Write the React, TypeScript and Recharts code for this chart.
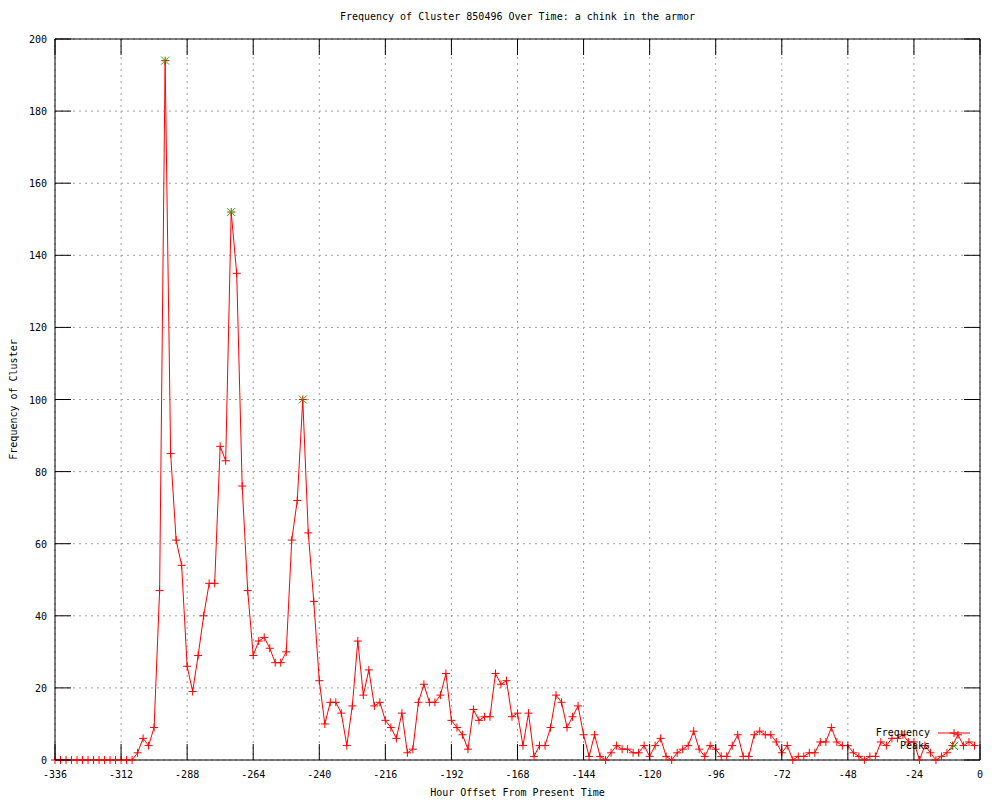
import React from "react";
import { ComposedChart, Line, XAxis, YAxis, CartesianGrid, Legend, ReferenceArea } from "recharts";

const hours = [
  -336, -334, -332, -330, -328, -326, -324, -322, -320, -318, -316, -314, -312, -310,
  -308, -306, -304, -302, -300, -298, -296, -294, -292, -290, -288, -286, -284, -282,
  -280, -278, -276, -274, -272, -270, -268, -266, -264, -262, -260, -258, -256, -254,
  -252, -250, -248, -246, -244, -242, -240, -238, -236, -234, -232, -230, -228, -226,
  -224, -222, -220, -218, -216, -214, -212, -210, -208, -206, -204, -202, -200, -198,
  -196, -194, -192, -190, -188, -186, -184, -182, -180, -178, -176, -174, -172, -170,
  -168, -166, -164, -162, -160, -158, -156, -154, -152, -150, -148, -146, -144, -142,
  -140, -138, -136, -134, -132, -130, -128, -126, -124, -122, -120, -118, -116, -114,
  -112, -110, -108, -106, -104, -102, -100, -98, -96, -94, -92, -90, -88, -86,
  -84, -82, -80, -78, -76, -74, -72, -70, -68, -66, -64, -62, -60, -58,
  -56, -54, -52, -50, -48, -46, -44, -42, -40, -38, -36, -34, -32, -30,
  -28, -26, -24, -22, -20, -18, -16, -14, -12, -10, -8, -6, -4, -2,
];

const frequency = [
  0, 0, 0, 0, 0, 0, 0, 0, 0, 0, 0, 0, 0, 0,
  0, 2, 6, 4, 9, 47, 194, 85, 61, 54, 26, 19, 29, 40,
  49, 49, 87, 83, 152, 135, 76, 47, 29, 33, 34, 31, 27, 27,
  30, 61, 72, 100, 63, 44, 22, 10, 16, 16, 13, 4, 15, 33,
  18, 25, 15, 16, 11, 9, 6, 13, 2, 3, 16, 21, 16, 16,
  18, 24, 11, 9, 7, 3, 14, 11, 12, 12, 24, 21, 22, 12,
  13, 4, 13, 1, 4, 4, 9, 18, 16, 9, 12, 15, 7, 1,
  7, 1, 0, 2, 4, 3, 3, 2, 2, 4, 1, 4, 6, 1,
  0, 2, 3, 4, 8, 3, 1, 4, 3, 1, 1, 4, 7, 1,
  1, 7, 8, 7, 7, 5, 2, 4, 0, 1, 1, 2, 2, 5,
  5, 9, 5, 4, 4, 2, 1, 0, 1, 1, 5, 4, 6, 6,
  7, 5, 5, 0, 4, 2, 0, 1, 2, 4, 7, 4, 5, 4,
];

const peakHours = [-296, -272, -246];
const peakValues = [194, 152, 100];

const xTicks = [-336, -312, -288, -264, -240, -216, -192, -168, -144, -120, -96, -72, -48, -24, 0];
const yTicks = [0, 20, 40, 60, 80, 100, 120, 140, 160, 180, 200];

const freqData = hours.map((h, i) => ({ h, v: frequency[i] }));
const peakData = peakHours.map((h, i) => ({ h, v: peakValues[i] }));

const FONT = "'DejaVu Sans Mono', monospace";
const RED = "#ff0000";
const GREEN = "#00c000";
const PLOT_TOP = 39;
const PLOT_BOTTOM = 760;
const PLOT_LEFT = 55;
const PLOT_RIGHT = 980;
const TICK_LEN = 16;

const plusPath = (x: number, y: number) => `M${x - 4},${y}H${x + 4}M${x},${y - 4}V${y + 4}`;
const crossPath = (x: number, y: number) => `M${x - 4},${y - 4}L${x + 4},${y + 4}M${x - 4},${y + 4}L${x + 4},${y - 4}`;

const PlusDot = (props: any) => {
  const { cx, cy, index } = props;
  if (cx == null || cy == null) return null;
  return <path key={`p${index}`} d={plusPath(cx, cy)} stroke={RED} strokeWidth={1} fill="none" />;
};

const CrossDot = (props: any) => {
  const { cx, cy, index } = props;
  if (cx == null || cy == null) return null;
  return <path key={`x${index}`} d={crossPath(cx, cy)} stroke={GREEN} strokeWidth={1} fill="none" />;
};

// gnuplot style: ticks point inward, mirrored on the opposite side
const XTick = ({ x, payload }: any) => (
  <g>
    <line x1={x} x2={x} y1={PLOT_BOTTOM} y2={PLOT_BOTTOM - TICK_LEN} stroke="#000" />
    <line x1={x} x2={x} y1={PLOT_TOP} y2={PLOT_TOP + TICK_LEN} stroke="#000" />
    <text x={x} y={PLOT_BOTTOM + 18} textAnchor="middle" fontFamily={FONT} fontSize={10} fill="#000">
      {payload.value}
    </text>
  </g>
);

const YTick = ({ y, payload }: any) => (
  <g>
    <line x1={PLOT_LEFT} x2={PLOT_LEFT + TICK_LEN} y1={y} y2={y} stroke="#000" />
    <line x1={PLOT_RIGHT - TICK_LEN} x2={PLOT_RIGHT} y1={y} y2={y} stroke="#000" />
    <text x={PLOT_LEFT - 8} y={y + 4} textAnchor="end" fontFamily={FONT} fontSize={10} fill="#000">
      {payload.value}
    </text>
  </g>
);

const renderLegend = ({ payload }: any) => (
  <svg width={125} height={28} style={{ display: "block", overflow: "visible" }}>
    {(payload || []).map((entry: any, i: number) => (
      <g key={entry.value} transform={`translate(0, ${i * 13})`}>
        <text x={70} y={10} textAnchor="end" fontFamily={FONT} fontSize={10} fill="#000">
          {entry.value}
        </text>
        {entry.value === "Frequency" ? (
          <>
            <line x1={78} x2={110} y1={7} y2={7} stroke={RED} />
            <path d={plusPath(94, 7)} stroke={RED} fill="none" />
          </>
        ) : (
          <path d={crossPath(94, 7)} stroke={GREEN} fill="none" />
        )}
      </g>
    ))}
  </svg>
);

export default function App() {
  return (
    <div style={{ position: "absolute", left: 0, top: 0, width: 1000, height: 800, background: "#fff" }}>
      <div
        style={{
          position: "absolute",
          left: PLOT_LEFT,
          width: PLOT_RIGHT - PLOT_LEFT,
          top: 12,
          textAlign: "center",
          fontFamily: FONT,
          fontSize: 10,
          lineHeight: "10px",
          color: "#000",
        }}
      >
        Frequency of Cluster 850496 Over Time: a chink in the armor
      </div>
      <ComposedChart
        width={1000}
        height={800}
        data={freqData}
        margin={{ top: PLOT_TOP, right: 1000 - PLOT_RIGHT, bottom: 0, left: 0 }}
      >
        <CartesianGrid stroke="#a0a0a0" strokeDasharray="2 4" />
        <XAxis
          dataKey="h"
          type="number"
          domain={[-336, 0]}
          ticks={xTicks}
          interval={0}
          height={800 - PLOT_BOTTOM}
          axisLine={false}
          tickLine={false}
          tick={<XTick />}
          label={{
            value: "Hour Offset From Present Time",
            position: "insideBottom",
            offset: 4,
            style: { fontFamily: FONT, fontSize: 10, fill: "#000" },
          }}
        />
        <YAxis
          type="number"
          domain={[0, 200]}
          ticks={yTicks}
          interval={0}
          width={PLOT_LEFT}
          axisLine={false}
          tickLine={false}
          tick={<YTick />}
          label={{
            value: "Frequency of Cluster",
            angle: -90,
            position: "insideLeft",
            offset: 13,
            style: { textAnchor: "middle", fontFamily: FONT, fontSize: 10, fill: "#000" },
          }}
        />
        <ReferenceArea x1={-336} x2={0} y1={0} y2={200} fill="none" stroke="#000" strokeWidth={1} />
        <Legend
          layout="vertical"
          align="center"
          verticalAlign="middle"
          content={renderLegend}
          wrapperStyle={{ left: 860, top: 726, width: 125, height: 28 }}
        />
        <Line
          name="Frequency"
          type="linear"
          dataKey="v"
          stroke={RED}
          strokeWidth={1}
          dot={<PlusDot />}
          activeDot={false}
          isAnimationActive={false}
        />
        <Line
          name="Peaks"
          type="linear"
          data={peakData}
          dataKey="v"
          stroke="none"
          dot={<CrossDot />}
          activeDot={false}
          isAnimationActive={false}
        />
      </ComposedChart>
    </div>
  );
}
